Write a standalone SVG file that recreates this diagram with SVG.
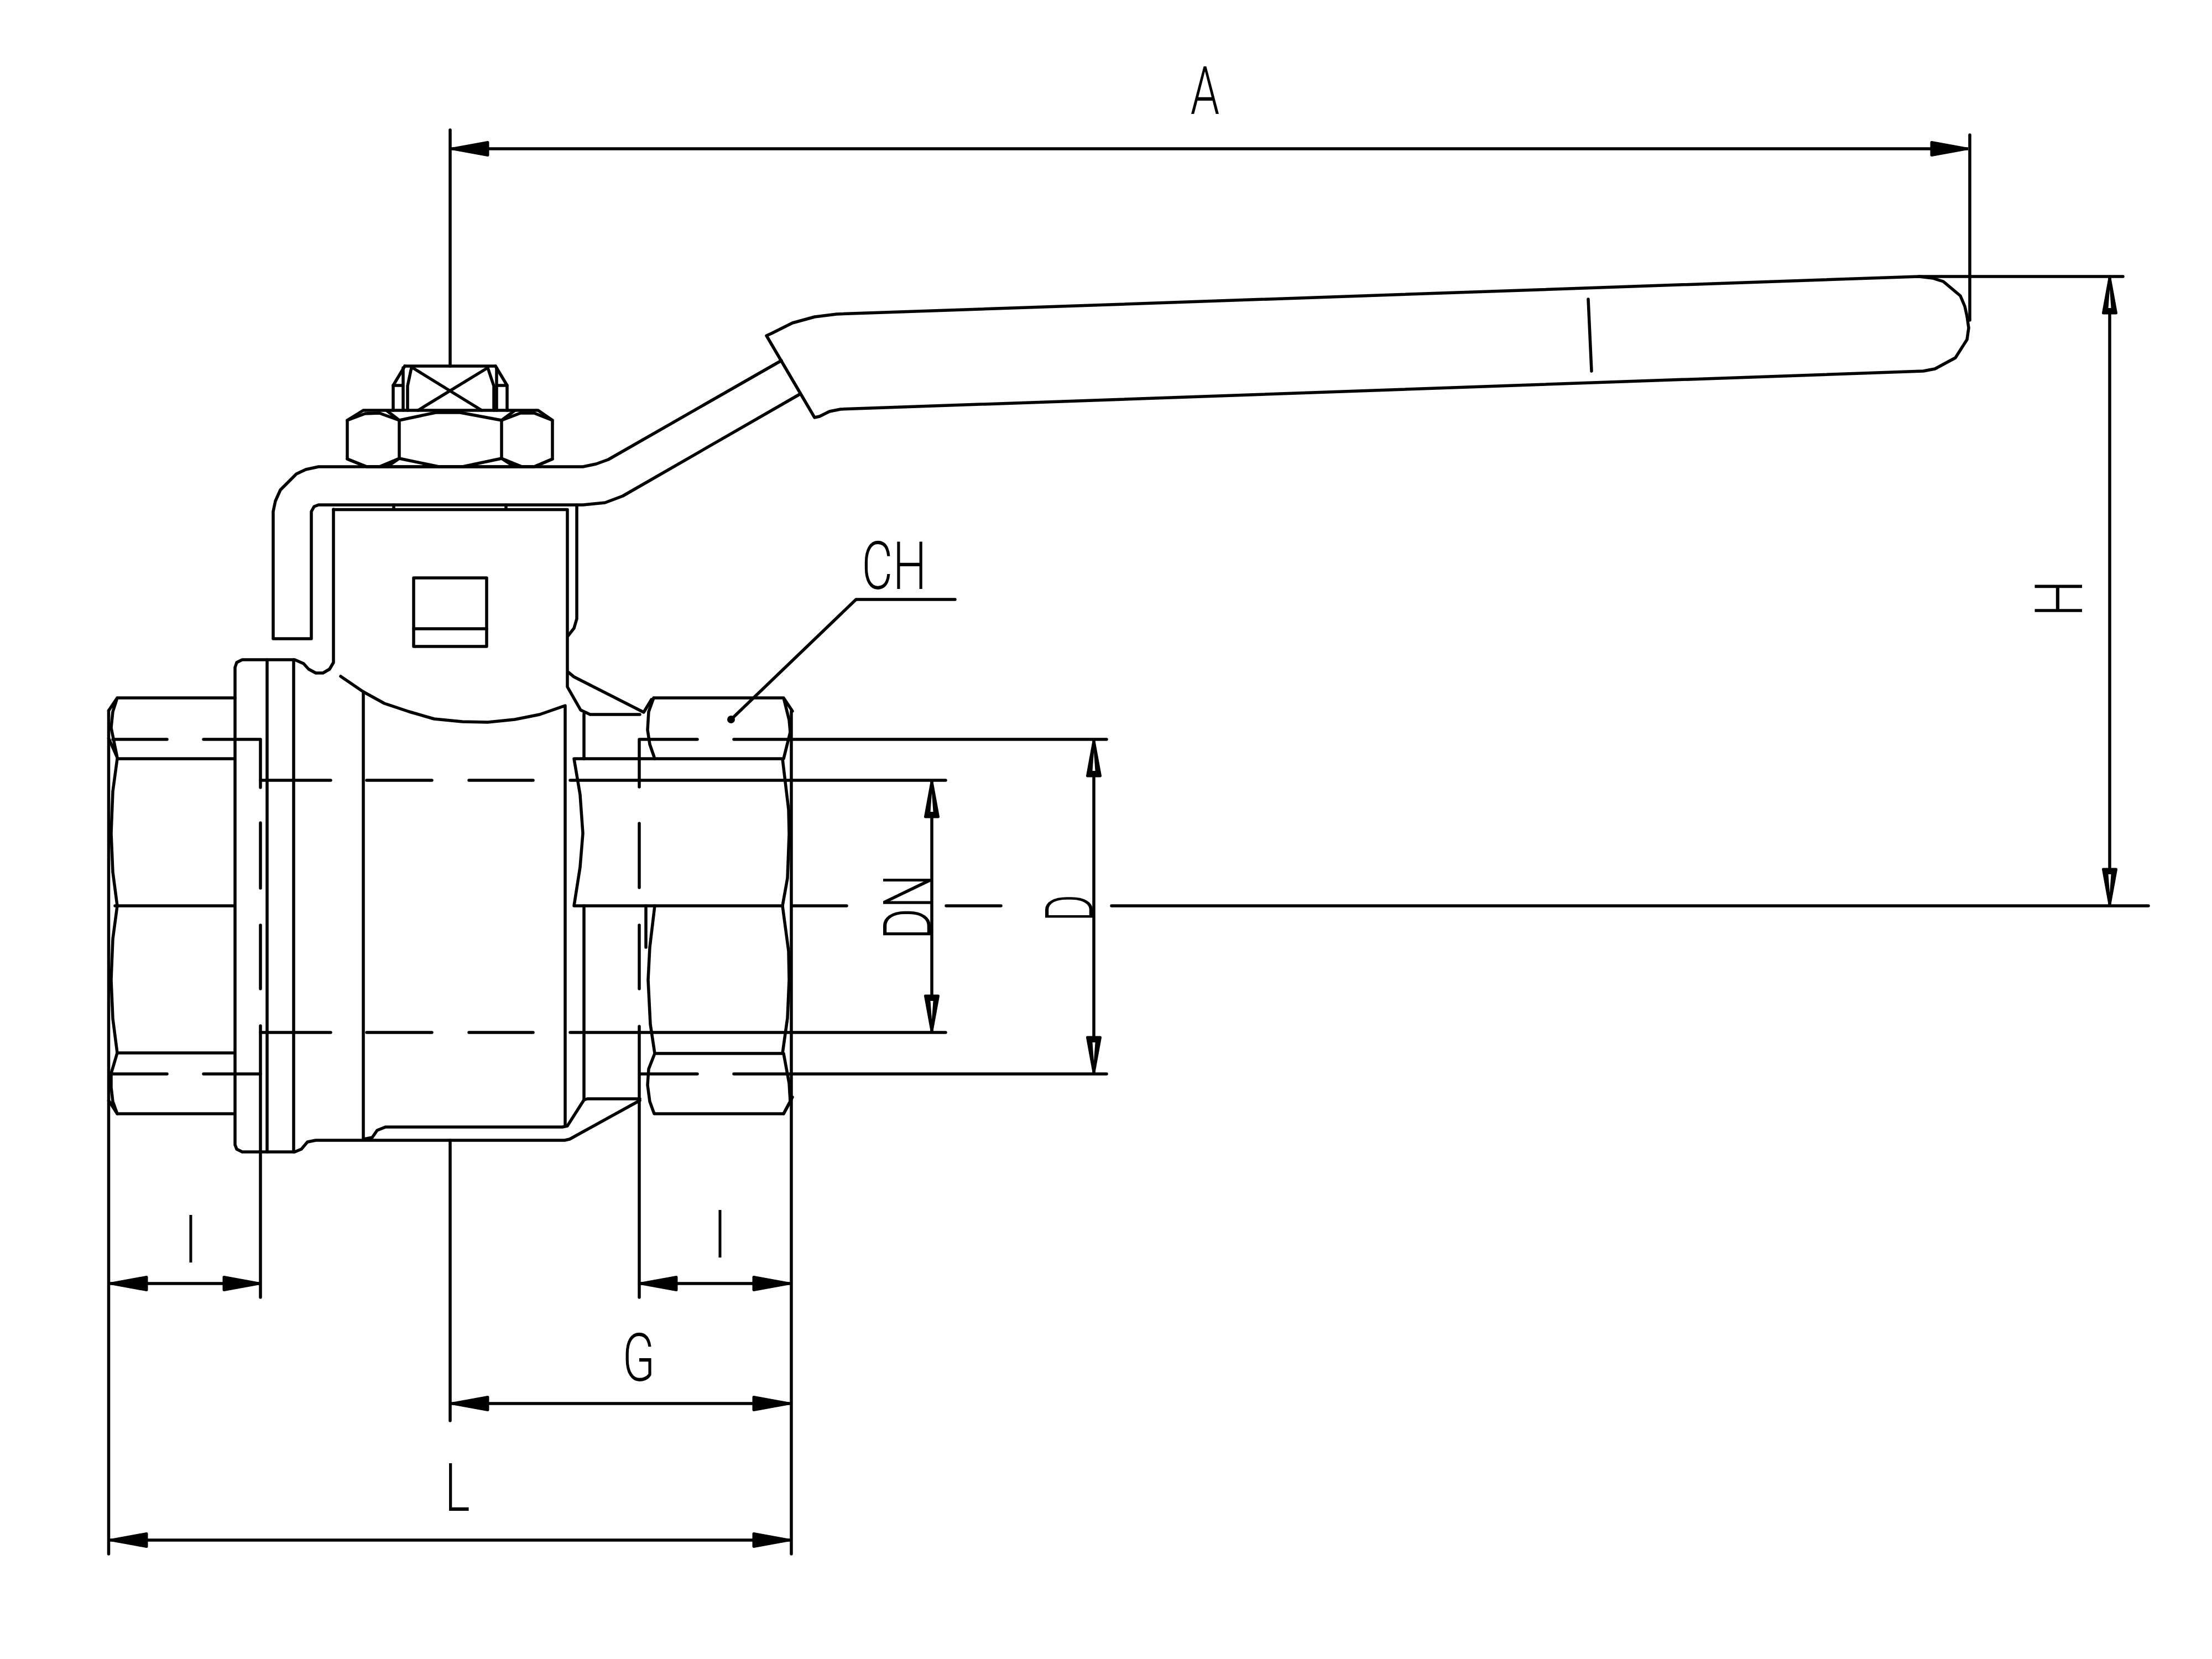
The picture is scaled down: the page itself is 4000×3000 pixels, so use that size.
<svg xmlns="http://www.w3.org/2000/svg" width="4000" height="3000" viewBox="0 0 4000 3000">
<style>
.l{fill:none;stroke:#000;stroke-width:5.5;stroke-linecap:round;stroke-linejoin:round}
.d{fill:none;stroke:#000;stroke-width:5.5;stroke-linecap:butt}
.h{marker-start:url(#ah);marker-end:url(#ah)}
.v{marker-start:url(#av);marker-end:url(#av)}
.t{font-family:Roboto,"Liberation Sans",sans-serif;font-weight:300;font-size:120px;fill:#000;text-anchor:middle}
</style>
<defs>
<marker id="ah" markerUnits="userSpaceOnUse" viewBox="0 0 72 34" markerWidth="72" markerHeight="34" refX="69" refY="17" orient="auto-start-reverse"><path d="M3 5.500L66 17L3 28.500Z" fill="#000" stroke="#000" stroke-width="5" stroke-linejoin="round"/></marker>
<marker id="av" markerUnits="userSpaceOnUse" viewBox="0 0 72 34" markerWidth="72" markerHeight="34" refX="69" refY="17" orient="auto-start-reverse"><path d="M3 5.500L66 17L3 28.500Z" fill="#000" stroke="#000" stroke-width="5" stroke-linejoin="round"/><path d="M12 14.500L46 17L12 19.500Z" fill="#fff"/></marker>
</defs>
<rect width="4000" height="3000" fill="#fff"/>
<g id="handle" class="l">
<path d="M1386 607L1395 603L1433 584L1473 573L1513 568L3470 500L3495 503L3514 509L3545 535L3553 554L3557 572L3560 593L3557 614L3536 647L3499 667L3478 671L1520 740L1500 744L1482 753L1473 755Z"/>
<path d="M2872 541L2878 671"/>
</g>
<g id="lever" class="l">
<path d="M1413 652L1100 831L1078 839L1054 844L576 844L553 849L536 857L507 886L498 906L494 925L494 1155L563 1155L563 925L568 916L576 913L1054 913L1094 909L1126 897L1446 713"/>
</g>
<g id="stem" class="l">
<path d="M732 662L896 662"/>
<path d="M711 742L711 697L732 662M917 742L917 697L896 662"/>
<path d="M711 697H729M898 697H917M729 665V742M898 665V742"/>
<path d="M744 665L737 698V742M882 665L893 698V742"/>
<path d="M746 665L871 742M882 665L756 742"/>
</g>
<g id="nut" class="l">
<path d="M657 742H973L999 760V830L966 844H663L628 830V760Z"/>
<path d="M722 760V829M907 760V829"/>
<path d="M628 760L660 748L686 747L722 760L788 746L832 746L907 760L941 747L966 747L999 760"/>
<path d="M628 830L663 844H686L722 829L794 844H836L907 829L944 844H966L999 830"/>
<path d="M700 743L722 760M907 760L930 743M700 844L722 829M907 829L930 844"/>
</g>
<g id="body" class="l">
<path d="M603 921.500H1026V1242L1050 1284L1067 1292H1157"/>
<path d="M712 913V921M915 913V921"/>
<path d="M603 921V1198L596 1210L584 1217H571L558 1210L549 1200L533 1193H438L428 1198L425 1207V2070L428 2078L438 2083H533L545 2078L556 2065L571 2062H1021L1030 2060L1157 1990"/>
<path d="M483 1193V2083M531 1193V2083"/>
<path d="M1043 913V1119L1038 1136L1027 1150"/>
<path d="M1027 1215L1038 1224L1164 1288L1178 1265"/>
<path d="M616 1223L657 1251L695 1272L740 1287L785 1300L836 1305L882 1306L931 1301L976 1292L1022 1276V2036"/>
<path d="M657 1251V2059"/>
<path d="M657 2060L673 2057L682 2044L697 2038H1017L1026 2036L1056 1989L1062 1987H1157"/>
<path d="M1056 1291V1372M1056 1638V1989"/>
<rect x="748" y="1045" width="132" height="124"/>
<path d="M748 1137H880"/>
</g>
<g id="left-hex" class="l">
<path d="M425 1262H212L196.500 1285M212 1262L204 1287L201 1316L212 1370L196.500 1335"/>
<path d="M424 1372H212L204 1431L201 1507L204 1577L212 1638L204 1698L201 1772L204 1842L212 1904L201 1941L201 1966L204 1992L212 2014H424"/>
<path d="M208 1638H424M212 1904H424M212 2014L196.500 1990"/>
</g>
<g id="right-hex" class="l">
<path d="M1182 1262H1417L1433 1286M1182 1262L1173 1287L1171 1320L1175 1346L1184 1372M1417 1262L1427 1302L1429 1324L1417 1372"/>
<path d="M1038 1372H1415L1426 1464L1427 1508L1424 1588L1415 1638H1038L1049 1568L1054 1507L1049 1437L1038 1372Z"/>
<path d="M1184 1638L1175 1713L1172 1772L1176 1852L1184 1905L1173 1933L1171 1962L1175 1992L1183 2014H1417L1429 1992L1427 1959L1417 1905H1184"/>
<path d="M1415 1638L1426 1720L1427 1772L1424 1841L1415 1905M1417 2014L1433 1984M1168 1638V1713"/>
</g>
<g id="connectors">
<g class="l">
<path d="M814 235V662M3562 244V579M3470 500H3839"/>
<path d="M814 2062V2569"/>
<path d="M196.500 1285V2810M1431 1286V2810"/>
<path d="M1322 1301L1548 1084H1727"/>
<path d="M204 1337H302M368 1337H471V1424M471 1488V1606M471 1673V1788M471 1855V2346"/>
<path d="M204 1942H302M368 1942H471"/>
<path d="M471 1411H598M663 1411H781M848 1411H964M1031 1411H1710"/>
<path d="M471 1867H598M663 1867H781M848 1867H964M1031 1867H1710"/>
<path d="M1261 1337H1156V1423M1156 1489V1605M1156 1673V1788M1156 1856V2346M1327 1337H2001"/>
<path d="M1157 1942H1261M1327 1942H2001"/>
<path d="M1433 1638H1531M1711 1638H1810M2010 1638H3885"/>
</g>
<circle cx="1322" cy="1301" r="7" fill="#000"/>
<path class="d h" d="M816 269H3559"/>
<path class="d h" d="M199 2321H471"/>
<path class="d h" d="M1157 2321H1429"/>
<path class="d h" d="M816 2538H1429"/>
<path class="d h" d="M199 2785H1429"/>
<path class="d v" d="M1685 1411V1867"/>
<path class="d v" d="M1978 1337V1942"/>
<path class="d v" d="M3815 500V1638"/>
</g>
<g id="labels">
<text class="t" transform="translate(2179,206) scale(.7,1)">A</text>
<text class="t" transform="translate(1617,1065) scale(.72,1)">CH</text>
<text class="t" transform="translate(345,2283) scale(.7,1)">I</text>
<text class="t" transform="translate(1302,2274) scale(.7,1)">I</text>
<text class="t" transform="translate(1155,2497) scale(.72,1)">G</text>
<text class="t" transform="translate(827,2732) scale(.72,1)">L</text>
<text class="t" transform="translate(1683,1640) rotate(-90) scale(.72,1)">DN</text>
<text class="t" transform="translate(1976,1642) rotate(-90) scale(.62,1)">D</text>
<text class="t" transform="translate(3765,1082) rotate(-90) scale(.78,1)">H</text>
</g>
</svg>
